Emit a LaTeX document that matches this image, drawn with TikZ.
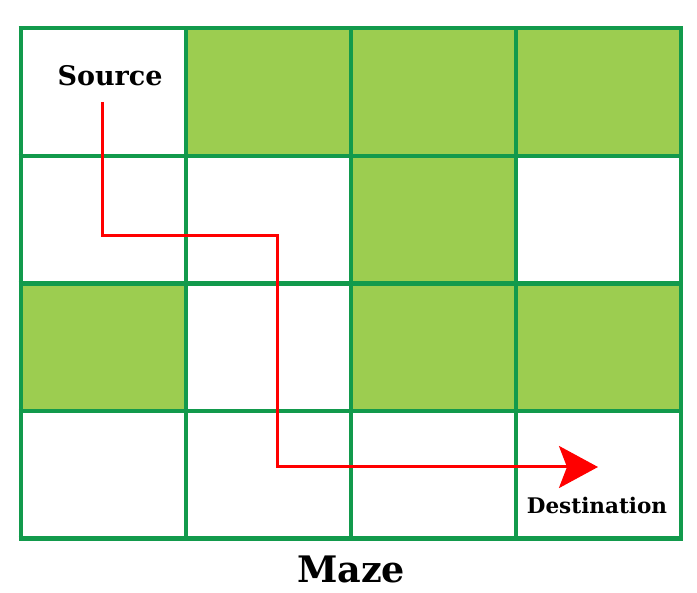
\documentclass[tikz,border=0pt]{standalone}
\usepackage{fontspec}
\setmainfont{DejaVu Serif}
\usetikzlibrary{arrows.meta}
\definecolor{gline}{HTML}{129A4C}
\definecolor{gfill}{HTML}{9CCD50}
\definecolor{pathred}{HTML}{FF0000}
\begin{document}
\begin{tikzpicture}[x=1pt,y=-1pt,
  gridline/.style={draw=gline,line width=4.3pt},
  wall/.style={fill=gfill},
  route/.style={draw=pathred,line width=3pt},
  lbl/.style={font=\bfseries,text=black,inner sep=0pt}]
\useasboundingbox (0,0) rectangle (697,593);
% green cells
\def\cw{165.1}
\def\ch{127.55}
\foreach \c/\r in {1/0,2/0,3/0,2/1,0/2,2/2,3/2}{
  \fill[wall] ({20.7+\c*\cw},{28.3+\r*\ch}) rectangle ++(\cw,\ch);
}
% grid
\foreach \i in {0,...,4}{
  \draw[gridline] ({20.7+\i*\cw},{28.3-2.15}) -- ({20.7+\i*\cw},{538.5+2.15});
  \draw[gridline] ({20.7-2.15},{28.3+\i*\ch}) -- ({681.1+2.15},{28.3+\i*\ch});
}
% labels
\node[lbl,font=\fontsize{27}{32}\selectfont\bfseries] (src) at (110,76) {Source};
\node[lbl,font=\fontsize{21.5}{25}\selectfont\bfseries] (dst) at (597,505) {Destination};
\node[lbl,font=\fontsize{36.5}{42}\selectfont\bfseries] (title) at (351,569) {Maze};
% route
\coordinate (start) at (102.5,102);
\coordinate (b1) at (102.5,235.7);
\coordinate (b2) at (277.5,235.7);
\coordinate (b3) at (277.5,467);
\coordinate (goal) at (598,467);
\draw[route,-{Stealth[length=39pt,width=42pt,inset=8pt]}] (start) -- (b1) -- (b2) -- (b3) -- (goal);
\end{tikzpicture}
\end{document}
